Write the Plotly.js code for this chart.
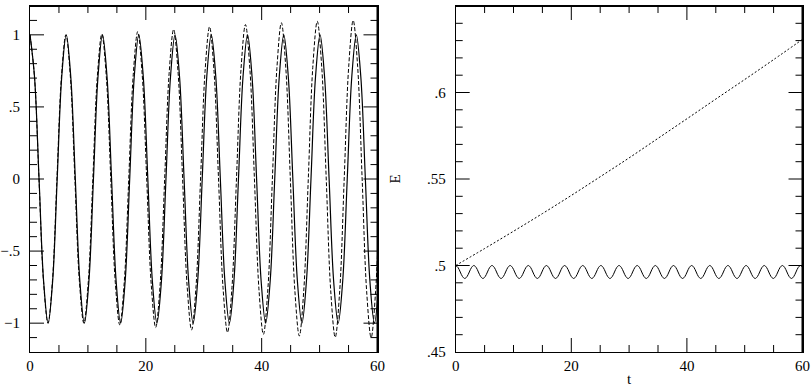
<!DOCTYPE html>
<html>
<head>
<meta charset="utf-8">
<script src="https://cdn.plot.ly/plotly-3.0.1.min.js"></script>
<style>html,body{margin:0;padding:0;background:#fff;}#chart{width:811px;height:387px;}</style>
</head>
<body>
<div id="chart"></div>
<script>
// Left panel: solid curve, sampled every 0.7825 in t starting at t = 0
var solidStep = 0.7825;
var solidY = [
  1, .707, 0, -.707, -1, -.707, 0, .707,
  1, .707, 0, -.707, -1, -.707, 0, .707,
  1, .707, 0, -.707, -1, -.707, 0, .707,
  1, .707, 0, -.707, -1, -.707, 0, .707,
  1, .707, 0, -.707, -1, -.707, 0, .707,
  1, .707, 0, -.707, -1, -.707, 0, .707,
  1, .707, 0, -.707, -1, -.707, 0, .707,
  1, .707, 0, -.707, -1, -.707, 0, .707,
  1, .707, 0, -.707, -1, -.707, 0, .707,
  1, .707, 0, -.707, -1, -.707
];
// Left panel: dashed curve (growing amplitude), sampled every 0.775 in t
var dashStep = 0.775;
var dashY = [
  1, .707, 0, -.707, -1, -.707, 0, .707,
  1, .707, 0, -.707, -1, -.707, 0, .711,
  1.005, .711, 0, -.716, -1.012, -.716, 0, .723,
  1.022, .723, 0, -.728, -1.03, -.728, 0, .734,
  1.038, .734, 0, -.74, -1.047, -.74, 0, .747,
  1.056, .747, 0, -.752, -1.064, -.752, 0, .757,
  1.071, .757, 0, -.762, -1.078, -.762, 0, .766,
  1.084, .766, 0, -.77, -1.089, -.77, 0, .774,
  1.094, .774, 0, -.776, -1.098, -.776, 0, .778,
  1.1, .778, 0, -.778, -1.1, -.778, 0
];
// Right panel: energy, solid (oscillating), sampled every 0.3925
var eSolidStep = 0.3925;
var eSolidY = [
  .5, .4989, .49625, .4936, .4925, .4936, .49625, .4989,
  .5, .4989, .49625, .4936, .4925, .4936, .49625, .4989,
  .5, .4989, .49625, .4936, .4925, .4936, .49625, .4989,
  .5, .4989, .49625, .4936, .4925, .4936, .49625, .4989,
  .5, .4989, .49625, .4936, .4925, .4936, .49625, .4989,
  .5, .4989, .49625, .4936, .4925, .4936, .49625, .4989,
  .5, .4989, .49625, .4936, .4925, .4936, .49625, .4989,
  .5, .4989, .49625, .4936, .4925, .4936, .49625, .4989,
  .5, .4989, .49625, .4936, .4925, .4936, .49625, .4989,
  .5, .4989, .49625, .4936, .4925, .4936, .49625, .4989,
  .5, .4989, .49625, .4936, .4925, .4936, .49625, .4989,
  .5, .4989, .49625, .4936, .4925, .4936, .49625, .4989,
  .5, .4989, .49625, .4936, .4925, .4936, .49625, .4989,
  .5, .4989, .49625, .4936, .4925, .4936, .49625, .4989,
  .5, .4989, .49625, .4936, .4925, .4936, .49625, .4989,
  .5, .4989, .49625, .4936, .4925, .4936, .49625, .4989,
  .5, .4989, .49625, .4936, .4925, .4936, .49625, .4989,
  .5, .4989, .49625, .4936, .4925, .4936, .49625, .4989,
  .5, .4989, .49625, .4936, .4925, .4936, .49625, .4989,
  .5, .4989
];
// Right panel: energy, dashed (growing)
var eDashT = [0, 5, 10, 15, 20, 25, 30, 35, 40, 45, 50, 55, 60];
var eDashY = [.5, .5098, .5198, .53, .5405, .5513, .5622, .5735, .5848, .5962, .6075, .619, .6307];

// Tick labels
var xTickVals = [0, 20, 40, 60];
var xTickText = ['0', '20', '40', '60'];
var yLeftVals = [-1, -.5, 0, .5, 1];
var yLeftText = ['\u22121', '\u2212.5', '0', '.5', '1'];
var yRightVals = [.45, .5, .55, .6, .65];
var yRightText = ['.45', '.5', '.55', '.6', '.65'];

// Tick marks (drawn inside, on all four sides)
var xMajorTicks = [20, 40];
var xMinorTicks = [5, 10, 15, 25, 30, 35, 45, 50, 55];
var yLeftMajorTicks = [-1, -.5, 0, .5, 1];
var yLeftMinorTicks = [-1.1, -.9, -.8, -.7, -.6, -.4, -.3, -.2, -.1, .1, .2, .3, .4, .6, .7, .8, .9, 1.1];
var yRightMajorTicks = [.5, .55, .6];
var yRightMinorTicks = [.46, .47, .48, .49, .51, .52, .53, .54, .56, .57, .58, .59, .61, .62, .63, .64];

var xRange = [0, 60];
var yLeftRange = [-1.2, 1.2];
var yRightRange = [.45, .65];

var font = {family: 'Liberation Serif, DejaVu Serif, serif', size: 15, color: '#000'};

// plot area size in pixels (used only to turn tick lengths in pixels into axis units)
var plotW = 347.3, plotH = 346;
var MAJOR = 14, MINOR = 7;

function tickTrace(xa, ya, xr, yr, xMaj, xMin, yMaj, yMin) {
  var xs = [], ys = [];
  var dyMaj = MAJOR / plotH * (yr[1] - yr[0]), dyMin = MINOR / plotH * (yr[1] - yr[0]);
  var dxMaj = MAJOR / plotW * (xr[1] - xr[0]), dxMin = MINOR / plotW * (xr[1] - xr[0]);
  function xt(vals, d) {
    vals.forEach(function (v) {
      xs.push(v, v, null, v, v, null);
      ys.push(yr[0], yr[0] + d, null, yr[1], yr[1] - d, null);
    });
  }
  function yt(vals, d) {
    vals.forEach(function (v) {
      ys.push(v, v, null, v, v, null);
      xs.push(xr[0], xr[0] + d, null, xr[1], xr[1] - d, null);
    });
  }
  xt(xMaj, dyMaj); xt(xMin, dyMin); yt(yMaj, dxMaj); yt(yMin, dxMin);
  return {x: xs, y: ys, xaxis: xa, yaxis: ya, mode: 'lines', connectgaps: false,
          line: {color: '#000', width: 1}, hoverinfo: 'skip'};
}

var traces = [
  {x0: 0, dx: solidStep, y: solidY, xaxis: 'x', yaxis: 'y', mode: 'lines',
   line: {color: '#000', width: 1.2, shape: 'spline', smoothing: 1}, hoverinfo: 'skip'},
  {x0: 0, dx: dashStep, y: dashY, xaxis: 'x', yaxis: 'y', mode: 'lines',
   line: {color: '#000', width: 1, dash: '4px,2px', shape: 'spline', smoothing: 1}, hoverinfo: 'skip'},
  {x0: 0, dx: eSolidStep, y: eSolidY, xaxis: 'x2', yaxis: 'y2', mode: 'lines',
   line: {color: '#000', width: 1, shape: 'spline', smoothing: 1}, hoverinfo: 'skip'},
  {x: eDashT, y: eDashY, xaxis: 'x2', yaxis: 'y2', mode: 'lines',
   line: {color: '#000', width: 1, dash: '2px,2px', shape: 'spline', smoothing: 1}, hoverinfo: 'skip'},
  tickTrace('x', 'y', xRange, yLeftRange, xMajorTicks, xMinorTicks, yLeftMajorTicks, yLeftMinorTicks),
  tickTrace('x2', 'y2', xRange, yRightRange, xMajorTicks, xMinorTicks, yRightMajorTicks, yRightMinorTicks)
];

function xAxis(domain, anchor, title) {
  return {
    domain: domain, anchor: anchor, range: xRange, autorange: false,
    tickmode: 'array', tickvals: xTickVals, ticktext: xTickText, ticks: '',
    showline: true, linecolor: '#000', mirror: true,
    showgrid: false, zeroline: false, tickfont: font,
    title: title ? {text: title, font: font, standoff: 0} : {text: ''}
  };
}
function yAxis(domain, anchor, range, vals, text, title) {
  return {
    domain: domain, anchor: anchor, range: range, autorange: false,
    tickmode: 'array', tickvals: vals, ticktext: text, ticks: '',
    ticklabelstandoff: 6,
    showline: true, linecolor: '#000', mirror: true,
    showgrid: false, zeroline: false, tickfont: font,
    title: title ? {text: title, font: font, standoff: 22} : {text: ''}
  };
}

var shapes = [];
['', '2'].forEach(function (n) {
  shapes.push({type: 'line', xref: 'x' + n + ' domain', yref: 'y' + n + ' domain', x0: 0, x1: 1, y0: 1, y1: 1, line: {color: '#000', width: 2}});
  shapes.push({type: 'line', xref: 'x' + n + ' domain', yref: 'y' + n + ' domain', x0: 1, x1: 1, y0: 0, y1: 1, line: {color: '#000', width: 2}});
});

var yDom = [1 - 352 / 387, 1 - 6 / 387];
var layout = {
  width: 811, height: 387,
  margin: {l: 0, r: 0, t: 0, b: 0, pad: 0},
  paper_bgcolor: '#fff', plot_bgcolor: '#fff',
  showlegend: false,
  font: font,
  xaxis: xAxis([30 / 811, 377.5 / 811], 'y', ''),
  yaxis: yAxis(yDom, 'x', yLeftRange, yLeftVals, yLeftText, ''),
  xaxis2: xAxis([455.7 / 811, 802.5 / 811], 'y2', 't'),
  yaxis2: yAxis(yDom, 'x2', yRightRange, yRightVals, yRightText, 'E'),
  shapes: shapes
};

Plotly.newPlot('chart', traces, layout, {staticPlot: true, displayModeBar: false});
</script>
</body>
</html>
